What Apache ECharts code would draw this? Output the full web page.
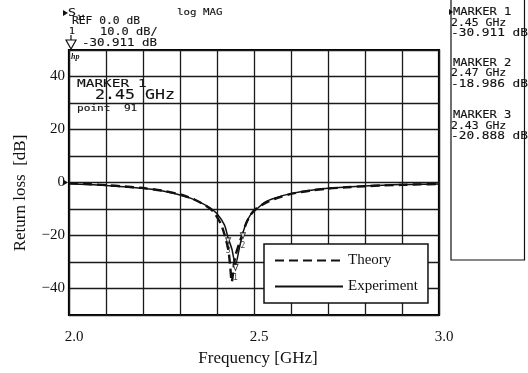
<!DOCTYPE html>
<html>
<head>
<meta charset="utf-8">
<script src="https://cdn.jsdelivr.net/npm/echarts@6/dist/echarts.min.js"></script>
<style>
  html, body { margin: 0; padding: 0; background: #fff; }
  #chart { width: 528px; height: 373px; }
</style>
</head>
<body>
<div id="chart"></div>
<script>
// Measured S11 (experiment)
const expFreq = [2.00, 2.05, 2.10, 2.15, 2.20, 2.25, 2.30, 2.33, 2.36, 2.38, 2.40, 2.42, 2.43, 2.44, 2.45,
                 2.46, 2.47, 2.48, 2.49, 2.50, 2.53, 2.56, 2.60, 2.65, 2.70, 2.75, 2.80, 2.85, 2.90, 2.95, 3.00];
const expDb   = [-0.5, -0.8, -1.1, -1.6, -2.2, -3.1, -4.7, -6.0, -7.9, -9.5, -11.8, -16.0, -20.9, -25.0, -30.9,
                 -25.0, -19.0, -15.0, -12.3, -11.0, -7.4, -5.7, -4.2, -3.0, -2.2, -1.7, -1.3, -1.0, -0.8, -0.7, -0.6];

// Simulated S11 (theory)
const theoryFreq = [2.00, 2.05, 2.10, 2.15, 2.20, 2.25, 2.30, 2.34, 2.37, 2.39, 2.41, 2.42, 2.43, 2.435, 2.44,
                    2.445, 2.45, 2.46, 2.47, 2.48, 2.49, 2.50, 2.53, 2.56, 2.60, 2.65, 2.70, 2.75, 2.80, 2.85, 2.90, 2.95, 3.00];
const theoryDb   = [-0.3, -0.6, -1.0, -1.5, -2.1, -3.0, -4.5, -6.5, -8.8, -11.0, -15.5, -19.5, -25.0, -30.5, -37.5,
                    -32.0, -27.5, -23.0, -19.0, -15.0, -12.5, -10.5, -7.8, -6.0, -4.3, -3.1, -2.3, -1.8, -1.4, -1.1, -0.9, -0.7, -0.6];

// Analyzer markers
const markerIds  = ['1', '2', '3'];
const markerFreq = [2.45, 2.47, 2.43];
const markerDb   = [-30.911, -18.986, -20.888];

// Tick labels
const xTickLabels = ['2.0', '2.5', '3.0'];
const yTickLabels = ['40', '20', '0', '−20', '−40'];

const SERIF = '"Liberation Serif", "DejaVu Serif", serif';
const MONO = '"DejaVu Sans Mono", monospace';

// Widened monospace text in the style of the analyzer's plotter font
function mono(text, x, yc, size, charW) {
  const sx = charW / (0.602 * size);
  return {
    type: 'text', x: x, y: yc, scaleX: sx, silent: true,
    style: {
      text: text, font: size + 'px ' + MONO, fill: '#111',
      stroke: '#111', lineWidth: 0.12,
      verticalAlign: 'middle', align: 'left'
    }
  };
}

const zip = (a, b) => a.map((v, i) => [v, b[i]]);

const chart = echarts.init(document.getElementById('chart'), null, { renderer: 'canvas' });

const option = {
  animation: false,
  backgroundColor: '#fff',
  grid: { left: 69, right: 89, top: 50, bottom: 58, show: true, borderColor: '#000', borderWidth: 2.2, backgroundColor: 'transparent' },
  xAxis: {
    type: 'value', min: 2.0, max: 3.0, interval: 0.1,
    axisLine: { show: false }, axisTick: { show: false },
    splitLine: { show: true, lineStyle: { color: '#1a1a1a', width: 1.3 } },
    axisLabel: {
      margin: 15, fontFamily: SERIF, fontSize: 15, color: '#111', padding: [0, 0, 0, 10],
      formatter: v => {
        const s = v.toFixed(1);
        return xTickLabels.includes(s) ? s : '';
      }
    },
    name: 'Frequency [GHz]', nameLocation: 'middle', nameGap: 32,
    nameTextStyle: { fontFamily: SERIF, fontSize: 17, color: '#111', padding: [0, 0, 0, 8] }
  },
  yAxis: {
    type: 'value', min: -50, max: 50, interval: 10,
    axisLine: { show: false }, axisTick: { show: false },
    splitLine: { show: true, lineStyle: { color: '#1a1a1a', width: 1.3 } },
    axisLabel: {
      margin: 4, fontFamily: SERIF, fontSize: 15, color: '#111',
      formatter: v => {
        const s = (v < 0 ? '−' + Math.abs(v) : String(v));
        return yTickLabels.includes(s) ? s : '';
      }
    }
  },
  legend: {
    data: ['Theory', 'Experiment'],
    orient: 'vertical', left: 264, top: 244,
    padding: [9, 10, 9, 10], itemGap: 11,
    itemWidth: 68, itemHeight: 10,
    backgroundColor: '#fff', borderColor: '#111', borderWidth: 1.5, borderRadius: 0,
    itemStyle: { opacity: 0 },
    textStyle: { fontFamily: SERIF, fontSize: 15, color: '#111' },
    selectedMode: false
  },
  series: [
    {
      name: 'Theory', type: 'line', data: zip(theoryFreq, theoryDb),
      smooth: 0.3, symbol: 'none', showSymbol: false,
      itemStyle: { color: '#111' },
      lineStyle: { color: '#111', width: 2.4, type: [9, 5] }, z: 3
    },
    {
      name: 'Experiment', type: 'line', data: zip(expFreq, expDb),
      smooth: 0.3, symbol: 'none', showSymbol: false,
      itemStyle: { color: '#111' },
      lineStyle: { color: '#111', width: 1.5, type: 'solid' }, z: 4
    },
    {
      name: 'Markers', type: 'scatter', z: 5,
      data: markerFreq.map((f, i) => ({ value: [f, markerDb[i]], id: markerIds[i] })),
      symbol: 'path://M0,0 L10,0 L5,9 Z', symbolSize: [5, 6], symbolOffset: [0, 3],
      itemStyle: { color: '#fff', borderColor: '#111', borderWidth: 1 },
      label: {
        show: true, position: 'bottom', distance: 3,
        formatter: p => p.data.id,
        fontFamily: MONO, fontSize: 8, color: '#111'
      }
    }
  ],
  graphic: [
    // y-axis title
    {
      type: 'text', x: 21, y: 193, rotation: Math.PI / 2, silent: true,
      style: { text: 'Return loss  [dB]', font: '17px ' + SERIF, fill: '#111', align: 'center', verticalAlign: 'middle' }
    },
    // reference-level pointer on the 0 dB line
    { type: 'polygon', silent: true, shape: { points: [[63, 179.5], [63, 185.5], [68, 182.5]] }, style: { fill: '#111' } },

    // header of the analyzer display
    { type: 'polygon', silent: true, shape: { points: [[63, 10], [63, 16], [68, 13]] }, style: { fill: '#111' } },
    mono('S', 68, 13, 10, 8),
    mono('11', 77, 18, 7, 4.2),
    mono('log MAG', 177, 12.5, 9.5, 6.5),
    mono('REF 0.0 dB', 72, 21.5, 10, 6.8),
    mono('1', 69, 31.5, 9, 6),
    mono('10.0 dB/', 100, 32.5, 10, 7.2),
    mono('-30.911 dB', 82, 43.5, 10, 7.5),
    { type: 'line', silent: true, shape: { x1: 71, y1: 35, x2: 71, y2: 40 }, style: { stroke: '#111', lineWidth: 1.2 } },
    { type: 'polygon', silent: true, shape: { points: [[66, 40], [76, 40], [71, 49]] }, style: { fill: '#fff', stroke: '#111', lineWidth: 1.2 } },

    // marker readout inside the plot
    {
      type: 'text', x: 71, y: 56.5, silent: true,
      style: { text: 'hp', font: 'italic bold 8px ' + SERIF, fill: '#111', verticalAlign: 'middle' }
    },
    mono('MARKER 1', 77, 84.5, 10.5, 8.7),
    mono('2.45 GHz', 95, 95, 13.5, 10),
    mono('point  91', 77, 108.5, 8, 6.7),

    // marker list panel on the right
    { type: 'rect', silent: true, shape: { x: 451, y: -3, width: 73.5, height: 263 }, style: { fill: '#fff', stroke: '#111', lineWidth: 1.2 } },
    { type: 'polygon', silent: true, shape: { points: [[449, 9], [449, 15], [453, 12]] }, style: { fill: '#111' } },
    mono('MARKER 1', 453, 12, 10, 7.3),
    mono('2.45 GHz', 451, 23, 10, 6.9),
    mono('-30.911 dB', 451, 33.5, 10, 7.7),
    mono('MARKER 2', 453, 63, 10, 7.3),
    mono('2.47 GHz', 451, 73.5, 10, 6.9),
    mono('-18.986 dB', 451, 84, 10, 7.7),
    mono('MARKER 3', 453, 115, 10, 7.3),
    mono('2.43 GHz', 451, 126, 10, 6.9),
    mono('-20.888 dB', 451, 136.5, 10, 7.7)
  ]
};

chart.setOption(option);
</script>
</body>
</html>
